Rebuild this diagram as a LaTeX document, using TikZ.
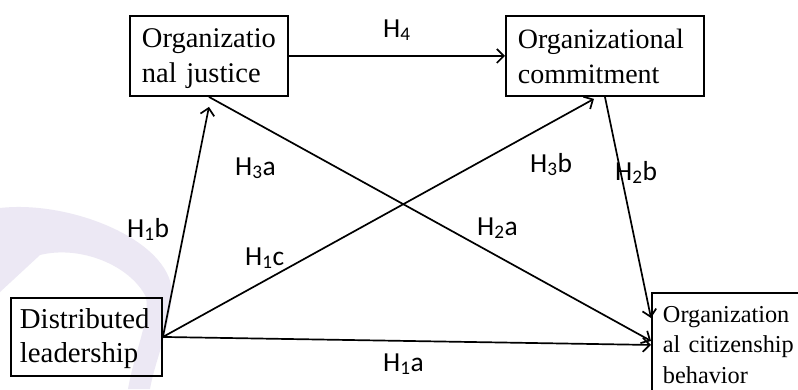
\documentclass[tikz,border=0pt]{standalone}
\usepackage{fontspec}
\setmainfont{Liberation Serif}
\newfontfamily\labelfont{Carlito}
\usetikzlibrary{arrows.meta}
\definecolor{wmark}{RGB}{236,232,244}
\newcommand{\hyp}[2]{H\textsubscript{#1}#2}
\newcommand{\lift}[1]{\rule{0pt}{#1}}

\begin{document}
\begin{tikzpicture}[x=1pt, y=-1pt,
    box/.style={draw, line width=1.9pt, align=left, anchor=north west,
                inner xsep=12pt, font=\fontsize{28.5}{35}\selectfont},
    link/.style={line width=1.7pt, -{Straight Barb[length=7pt, width=14pt]}},
    hlabel/.style={anchor=base west, inner sep=0pt, font=\labelfont\fontsize{27.5}{30}\selectfont}]
    \useasboundingbox (0,0) rectangle (798,389);
    \clip (0,0) rectangle (798,389);
    \fill[white] (0,0) rectangle (798,389);

    % watermark band
    \fill[wmark] (0,208) .. controls (70,200) and (170,240) .. (172,292)
        .. controls (170,330) and (155,360) .. (150,389) -- (128,389)
        .. controls (135,350) and (150,320) .. (146,297)
        .. controls (130,265) and (80,245) .. (40,255) -- (0,292) -- cycle;

    % Variables
    \node[box, text width=134pt, minimum height=80pt] (just) at (129,15) {\lift{25pt}Organizatio\\nal justice};
    \node[box, text width=174pt, minimum height=80pt, font=\fontsize{28}{35}\selectfont] (comm) at (505,15) {Organizational\\commitment};
    \node[box, text width=133pt, minimum height=78pt, inner xsep=9pt, font=\fontsize{28.8}{34}\selectfont] (dist) at (10,297) {\lift{24pt}Distributed\\leadership};
    \node[box, text width=140pt, minimum height=104pt, inner xsep=11pt,
          font=\fontsize{24.3}{30.5}\selectfont] (ocb) at (651,292) {Organization\\al citizenship\\behavior};

    % Paths
    \draw[link] (just.east) -- (comm.west);
    \draw[link] (dist.east) -- ([yshift=-10pt]just.south);
    \draw[link] (dist.east) -- ([xshift=-11pt, yshift=-2pt]comm.south);
    \draw[link] (dist.east) -- (ocb.west);
    \draw[link] (just.south) -- ([yshift=4pt]ocb.west);
    \draw[link] (comm.south) -- ([yshift=-26pt]ocb.north west);

    % Hypotheses
    \node[hlabel] (h4) at (383,37) {\hyp{4}{}};
    \node[hlabel] (h3a) at (235,175) {\hyp{3}{a}};
    \node[hlabel] (h3b) at (530,172) {\hyp{3}{b}};
    \node[hlabel] (h2b) at (615,180) {\hyp{2}{b}};
    \node[hlabel] (h1b) at (127,237) {\hyp{1}{b}};
    \node[hlabel] (h1c) at (245,265) {\hyp{1}{c}};
    \node[hlabel] (h2a) at (477,235) {\hyp{2}{a}};
    \node[hlabel] (h1a) at (383,371) {\hyp{1}{a}};
\end{tikzpicture}
\end{document}
